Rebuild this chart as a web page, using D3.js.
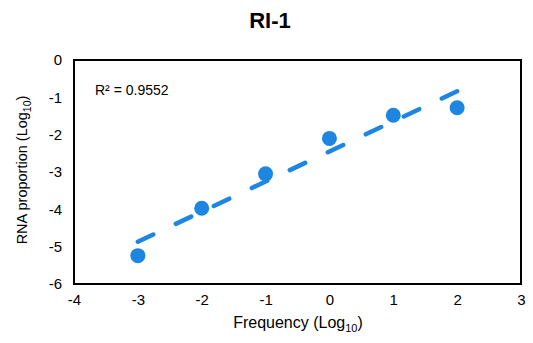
<!DOCTYPE html>
<html>
<head>
<meta charset="utf-8">
<script src="https://cdn.jsdelivr.net/npm/d3@7"></script>
<style>
  html, body { margin: 0; padding: 0; background: #fff; }
  svg { display: block; font-family: "Liberation Sans", Arial, sans-serif; }
</style>
</head>
<body>
<svg id="chart" width="533" height="343"></svg>
<script>
// Log10 frequency vs. log10 RNA proportion for RI-1
const frequencyLog = [-3, -2, -1, 0, 1, 2];
const rnaProportionLog = [-5.24, -3.97, -3.05, -2.10, -1.48, -1.28];
const xTicks = [-4, -3, -2, -1, 0, 1, 2, 3];
const yTicks = [0, -1, -2, -3, -4, -5, -6];
const rSquaredLabel = "R\u00B2 = 0.9552";
const chartTitle = "RI-1";

const blue = "#1E86E0";
const font = "Liberation Sans, Arial, sans-serif";
const svg = d3.select("#chart");
const plot = { left: 74, right: 521, top: 60, bottom: 284 };

const x = d3.scaleLinear().domain([-4, 3]).range([plot.left, plot.right]);
const y = d3.scaleLinear().domain([-6, 0]).range([plot.bottom, plot.top]);

// Title
svg.append("text")
  .attr("x", 270).attr("y", 28)
  .attr("text-anchor", "middle")
  .attr("font-size", 22).attr("font-weight", "bold")
  .text(chartTitle);

// Axes (labels only, the frame is drawn separately); plain hyphen minus signs
const fmt = d => String(d);
const xAxis = d3.axisBottom(x).tickValues(xTicks).tickSize(0).tickPadding(10).tickFormat(fmt);
const gx = svg.append("g").attr("transform", `translate(0,${plot.bottom})`).call(xAxis);
gx.select(".domain").remove();
gx.selectAll("text").attr("font-size", 15).attr("fill", "#000").attr("font-family", font);

const yAxis = d3.axisLeft(y).tickValues(yTicks).tickSize(0).tickPadding(12).tickFormat(fmt);
const gy = svg.append("g").attr("transform", `translate(${plot.left},0)`).call(yAxis);
gy.select(".domain").remove();
gy.selectAll("text").attr("font-size", 15).attr("fill", "#000").attr("font-family", font);

// Plot frame
svg.append("rect")
  .attr("x", plot.left).attr("y", plot.top)
  .attr("width", plot.right - plot.left).attr("height", plot.bottom - plot.top)
  .attr("fill", "none").attr("stroke", "#000").attr("stroke-width", 2);

// Least-squares trendline
const n = frequencyLog.length;
const mx = d3.mean(frequencyLog), my = d3.mean(rnaProportionLog);
let sxy = 0, sxx = 0;
for (let i = 0; i < n; i++) {
  sxy += (frequencyLog[i] - mx) * (rnaProportionLog[i] - my);
  sxx += (frequencyLog[i] - mx) ** 2;
}
const slope = sxy / sxx, intercept = my - slope * mx;
const x0 = d3.min(frequencyLog), x1 = d3.max(frequencyLog);

svg.append("line")
  .attr("x1", x(x0)).attr("y1", y(intercept + slope * x0))
  .attr("x2", x(x1)).attr("y2", y(intercept + slope * x1))
  .attr("stroke", blue).attr("stroke-width", 4.5)
  .attr("stroke-linecap", "round")
  .attr("stroke-dasharray", "17,25");

// Data points
svg.append("g").selectAll("circle")
  .data(frequencyLog.map((f, i) => [f, rnaProportionLog[i]]))
  .join("circle")
  .attr("cx", d => x(d[0])).attr("cy", d => y(d[1]))
  .attr("r", 7.5).attr("fill", blue);

// R-squared annotation
svg.append("text")
  .attr("x", 95).attr("y", 95)
  .attr("font-size", 14)
  .text(rSquaredLabel);

// Axis titles
const xTitle = svg.append("text")
  .attr("x", 298).attr("y", 328)
  .attr("text-anchor", "middle").attr("font-size", 16);
xTitle.append("tspan").text("Frequency (Log");
xTitle.append("tspan").attr("font-size", 11).attr("dy", 4).text("10");
xTitle.append("tspan").attr("dy", -4).text(")");

const yTitle = svg.append("text")
  .attr("transform", "translate(27,170) rotate(-90)")
  .attr("text-anchor", "middle").attr("font-size", 14.5);
yTitle.append("tspan").text("RNA proportion (Log");
yTitle.append("tspan").attr("font-size", 10.5).attr("dy", 4).text("10");
yTitle.append("tspan").attr("dy", -4).text(")");
</script>
</body>
</html>
